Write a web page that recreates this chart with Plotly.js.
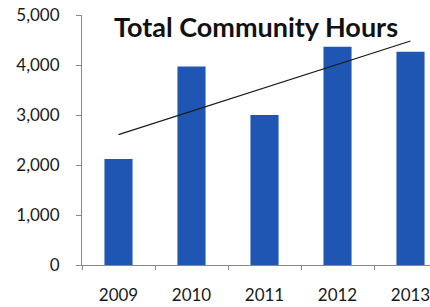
<!DOCTYPE html>
<html>
<head>
<meta charset="utf-8">
<script src="https://cdn.plot.ly/plotly-3.0.1.min.js"></script>
<style>html,body{margin:0;padding:0;background:#fff;}#chart{width:430px;height:307px;}</style>
</head>
<body>
<div id="chart"></div>
<script>
var years = ['2009', '2010', '2011', '2012', '2013'];
var hours = [2120, 3970, 3000, 4365, 4265];
var yTicks = [0, 1000, 2000, 3000, 4000, 5000];
var yTickLabels = ['0', '1,000', '2,000', '3,000', '4,000', '5,000'];

// linear trendline (least squares) over the bars
var n = hours.length, idx = hours.map(function(_, i){ return i; });
var mx = idx.reduce(function(a,b){return a+b;},0)/n;
var my = hours.reduce(function(a,b){return a+b;},0)/n;
var num = 0, den = 0;
idx.forEach(function(x,i){ num += (x-mx)*(hours[i]-my); den += (x-mx)*(x-mx); });
var slope = num/den, icpt = my - slope*mx;
var trend = [icpt, icpt + slope*(n-1)];

var data = [
  {type:'bar', x: years, y: hours, marker:{color:'#1f56b4'}, hoverinfo:'none'},
  {type:'scatter', mode:'lines', x:[years[0], years[n-1]], y: trend,
   line:{color:'#1a1a1a', width:1.2}, hoverinfo:'none'}
];
var layout = {
  width:430, height:307,
  margin:{l:82, r:0, t:15, b:42},
  paper_bgcolor:'#fff', plot_bgcolor:'#fff',
  showlegend:false,
  bargap:0.615,
  font:{family:'Lato, "Open Sans", sans-serif', color:'#1a1a1a', size:17},
  title:{text:'<b>Total Community Hours</b>', font:{family:'Lato, sans-serif', size:27, color:'#111'},
         x:256/430, xanchor:'center', y:1-37/307, yanchor:'bottom', xref:'container', yref:'container'},
  xaxis:{type:'category', range:[-0.5, 4.267], showline:true, linecolor:'#888', linewidth:1,
         ticks:'outside', tickson:'boundaries', ticklen:4, tickcolor:'#888',
         ticklabelstandoff:15, showgrid:false, zeroline:false, fixedrange:true},
  yaxis:{range:[0,5000], tickvals:yTicks, ticktext:yTickLabels, showline:true, linecolor:'#888',
         linewidth:1, ticks:'outside', ticklen:5, tickcolor:'#888', ticklabelstandoff:13,
         showgrid:false, zeroline:false, fixedrange:true}
};
Plotly.newPlot('chart', data, layout, {staticPlot:true, displayModeBar:false});
</script>
</body>
</html>
